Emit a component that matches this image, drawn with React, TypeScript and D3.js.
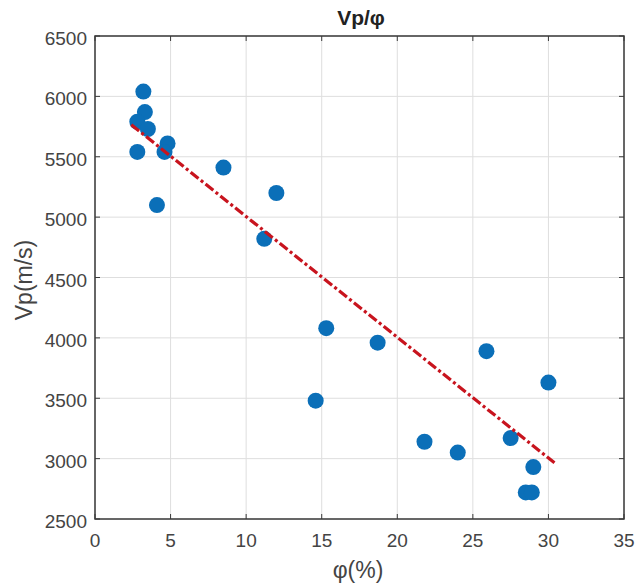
import React from "react";
import * as d3 from "d3";

// Porosity (%) and P-wave velocity (m/s) samples
const porosity = [3.2, 3.3, 2.8, 3.5, 2.8, 4.8, 4.6, 4.1, 8.5, 12.0, 11.2, 15.3, 18.7, 14.6, 21.8, 24.0, 25.9, 27.5, 30.0, 29.0, 28.5, 28.9];
const velocity = [6040, 5870, 5790, 5730, 5540, 5610, 5540, 5100, 5410, 5200, 4820, 4080, 3960, 3480, 3140, 3050, 3890, 3170, 3630, 2930, 2720, 2720];

// Linear trend line (Vp = slope * phi + intercept)
const fitSlope = -100.0;
const fitIntercept = 6005;
const fitRange = [2.4, 30.4];

const xTicks = [0, 5, 10, 15, 20, 25, 30, 35];
const yTicks = [2500, 3000, 3500, 4000, 4500, 5000, 5500, 6000, 6500];

const W = 636;
const H = 586;
const margin = { left: 95, right: 12, top: 36, bottom: 67 };

export default function App() {
  const x = d3.scaleLinear().domain([0, 35]).range([margin.left, W - margin.right]);
  const y = d3.scaleLinear().domain([2500, 6500]).range([H - margin.bottom, margin.top]);
  const x0 = x.range()[0], x1 = x.range()[1];
  const y0 = y.range()[0], y1 = y.range()[1];
  const font = "'Liberation Sans', Arial, sans-serif";
  const axisColor = "#3a3a3a";
  const textColor = "#444";
  const tick = 5;

  const fitLine = d3.line<number>()
    .x((d) => x(d))
    .y((d) => y(fitSlope * d + fitIntercept))(fitRange);

  return (
    <svg width={W} height={H} style={{ position: "absolute", left: 0, top: 0, background: "#fff" }}>
      {/* grid */}
      {xTicks.map((t) => (
        <line key={"gx" + t} x1={x(t)} x2={x(t)} y1={y0} y2={y1} stroke="#dedede" strokeWidth={1} />
      ))}
      {yTicks.map((t) => (
        <line key={"gy" + t} x1={x0} x2={x1} y1={y(t)} y2={y(t)} stroke="#dedede" strokeWidth={1} />
      ))}

      {/* data points */}
      {porosity.map((p, i) => (
        <circle key={"p" + i} cx={x(p)} cy={y(velocity[i])} r={8} fill="#0b6fb8" />
      ))}

      {/* trend line */}
      <path d={fitLine ?? ""} fill="none" stroke="#c8141e" strokeWidth={3.2} strokeDasharray="10,3,3,3" />

      {/* axes box */}
      <rect x={x0} y={y1} width={x1 - x0} height={y0 - y1} fill="none" stroke={axisColor} strokeWidth={1.5} />
      {xTicks.map((t) => (
        <g key={"tx" + t}>
          <line x1={x(t)} x2={x(t)} y1={y0} y2={y0 - tick} stroke={axisColor} />
          <line x1={x(t)} x2={x(t)} y1={y1} y2={y1 + tick} stroke={axisColor} />
          <text x={x(t)} y={y0 + 28} textAnchor="middle" fontFamily={font} fontSize={19} fill={textColor}>
            {t}
          </text>
        </g>
      ))}
      {yTicks.map((t) => (
        <g key={"ty" + t}>
          <line x1={x0} x2={x0 + tick} y1={y(t)} y2={y(t)} stroke={axisColor} />
          <line x1={x1} x2={x1 - tick} y1={y(t)} y2={y(t)} stroke={axisColor} />
          <text x={x0 - 8} y={y(t) + 9} textAnchor="end" fontFamily={font} fontSize={19} fill={textColor}>
            {t}
          </text>
        </g>
      ))}

      {/* titles */}
      <text x={361} y={25} textAnchor="middle" fontFamily={font} fontSize={21} fontWeight="bold" fill="#222">
        Vp/φ
      </text>
      <text x={358} y={578} textAnchor="middle" fontFamily={font} fontSize={23} fill={textColor}>
        φ(%)
      </text>
      <text
        transform={`translate(32, 280) rotate(-90)`}
        textAnchor="middle"
        fontFamily={font}
        fontSize={23}
        fill={textColor}
      >
        Vp(m/s)
      </text>
    </svg>
  );
}
